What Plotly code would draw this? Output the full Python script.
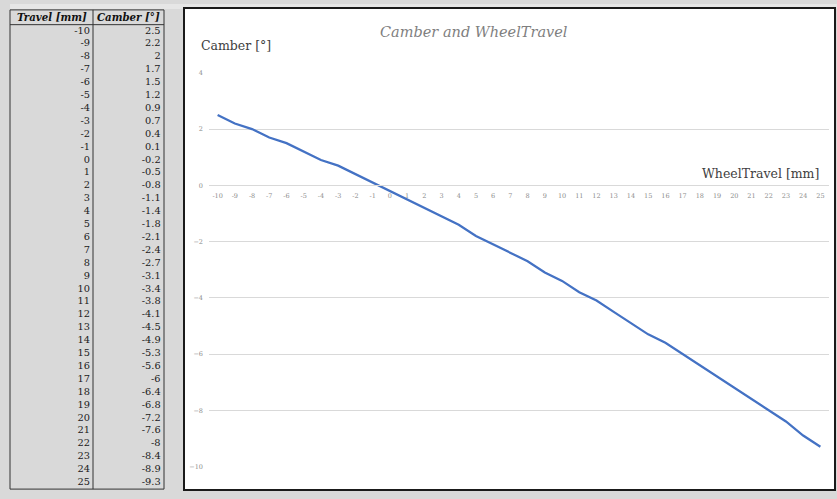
import plotly.graph_objects as go

travel = list(range(-10, 26))
camber = [2.5, 2.2, 2, 1.7, 1.5, 1.2, 0.9, 0.7, 0.4, 0.1, -0.2, -0.5, -0.8, -1.1,
          -1.4, -1.8, -2.1, -2.4, -2.7, -3.1, -3.4, -3.8, -4.1, -4.5, -4.9, -5.3,
          -5.6, -6, -6.4, -6.8, -7.2, -7.6, -8, -8.4, -8.9, -9.3]
header = ["Travel [mm]", "Camber [°]"]
chart_title = "Camber and WheelTravel"
y_title = "Camber [°]"
x_title = "WheelTravel [mm]"
y_ticks = [-10, -8, -6, -4, -2, 0, 2, 4]

W, H = 837, 499
SERIF = "DejaVu Serif"


def px(x):
    return x / W


def py(y):
    return 1 - y / H


fig = go.Figure()

# chart line
fig.add_trace(go.Scatter(x=travel, y=camber, mode="lines",
                         line=dict(color="#4472C4", width=2.25),
                         hoverinfo="x+y", showlegend=False))

# table text through second axes
fmt = lambda v: ("%g" % v)
fig.add_trace(go.Scatter(x=[0.519] * len(travel), y=travel, mode="text",
                         text=[fmt(t) for t in travel], textposition="middle left",
                         textfont=dict(family=SERIF, size=9.8, color="#1a1a1a"),
                         xaxis="x2", yaxis="y2", showlegend=False, hoverinfo="skip"))
fig.add_trace(go.Scatter(x=[0.978] * len(camber), y=travel, mode="text",
                         text=[fmt(c) for c in camber], textposition="middle left",
                         textfont=dict(family=SERIF, size=9.8, color="#1a1a1a"),
                         xaxis="x2", yaxis="y2", showlegend=False, hoverinfo="skip"))

plot_y0, plot_y1 = py(470), py(70)
ymin, ymax = -10, 4
zero_pos = plot_y0 + (0 - ymin) / (ymax - ymin) * (plot_y1 - plot_y0)

shapes = [
    # top light strip
    dict(type="rect", xref="paper", yref="paper", x0=px(10), x1=1, y0=py(0), y1=py(5),
         fillcolor="#e6e6e6", line=dict(width=0), layer="below"),
    # chart box
    dict(type="rect", xref="paper", yref="paper", x0=px(184), x1=px(835), y0=py(494), y1=py(4),
         fillcolor="white", line=dict(color="#1a1a1a", width=2), layer="below"),
    # table outer
    dict(type="rect", xref="paper", yref="paper", x0=px(10), x1=px(164), y0=py(493), y1=py(6),
         line=dict(color="#333333", width=1), layer="above"),
    dict(type="line", xref="paper", yref="paper", x0=px(93), x1=px(93), y0=py(493), y1=py(6),
         line=dict(color="#333333", width=1)),
    dict(type="line", xref="paper", yref="paper", x0=px(10), x1=px(164), y0=py(21), y1=py(21),
         line=dict(color="#333333", width=1)),
]

annotations = [
    dict(text="<b><i>" + header[0] + "</i></b>", x=px(51.5), y=py(13.5), xref="paper",
         yref="paper", showarrow=False, font=dict(family=SERIF, size=10.2, color="#111"),
         xanchor="center", yanchor="middle"),
    dict(text="<b><i>" + header[1] + "</i></b>", x=px(128.5), y=py(13.5), xref="paper",
         yref="paper", showarrow=False, font=dict(family=SERIF, size=10.2, color="#111"),
         xanchor="center", yanchor="middle"),
    dict(text="<i>" + chart_title + "</i>", x=px(474), y=py(28), xref="paper", yref="paper",
         showarrow=False, font=dict(family=SERIF, size=14.5, color="#7f7f7f"),
         xanchor="center", yanchor="middle"),
    dict(text=y_title, x=px(199), y=py(42), xref="paper", yref="paper", showarrow=False,
         font=dict(family=SERIF, size=12.5, color="#404040"), xanchor="left", yanchor="middle"),
    dict(text=x_title, x=px(821), y=py(172), xref="paper", yref="paper", showarrow=False,
         font=dict(family=SERIF, size=12.5, color="#404040"), xanchor="right", yanchor="middle"),
]

fig.update_layout(
    width=W, height=H, margin=dict(l=0, r=0, t=0, b=0),
    paper_bgcolor="#d9d9d9", plot_bgcolor="rgba(0,0,0,0)",
    shapes=shapes, annotations=annotations,
    xaxis=dict(domain=[px(209), px(829)], range=[-10.5, 25.5], anchor="free",
               position=zero_pos, tickmode="array", tickvals=travel,
               ticktext=[str(t) for t in travel], showgrid=False, zeroline=False,
               showline=True, linecolor="#d9d9d9", linewidth=1, ticks="",
               tickfont=dict(family=SERIF, size=6.5, color="#8c8c8c"),
               ticklabelstandoff=4, fixedrange=True),
    yaxis=dict(domain=[plot_y0, plot_y1], range=[ymin, ymax], tickvals=y_ticks,
               showgrid=True, gridcolor="#d9d9d9", gridwidth=1, zeroline=False,
               ticks="", tickfont=dict(family=SERIF, size=6.5, color="#8c8c8c"),
               ticklabelstandoff=5, fixedrange=True),
    xaxis2=dict(domain=[px(10), px(164)], range=[0, 1], visible=False, anchor="y2"),
    yaxis2=dict(domain=[py(493), py(21)], range=[25.5, -10.5], visible=False, anchor="x2"),
)

fig.write_html("out.html", config={"displayModeBar": False},
               post_script="document.body.style.margin='0';")
